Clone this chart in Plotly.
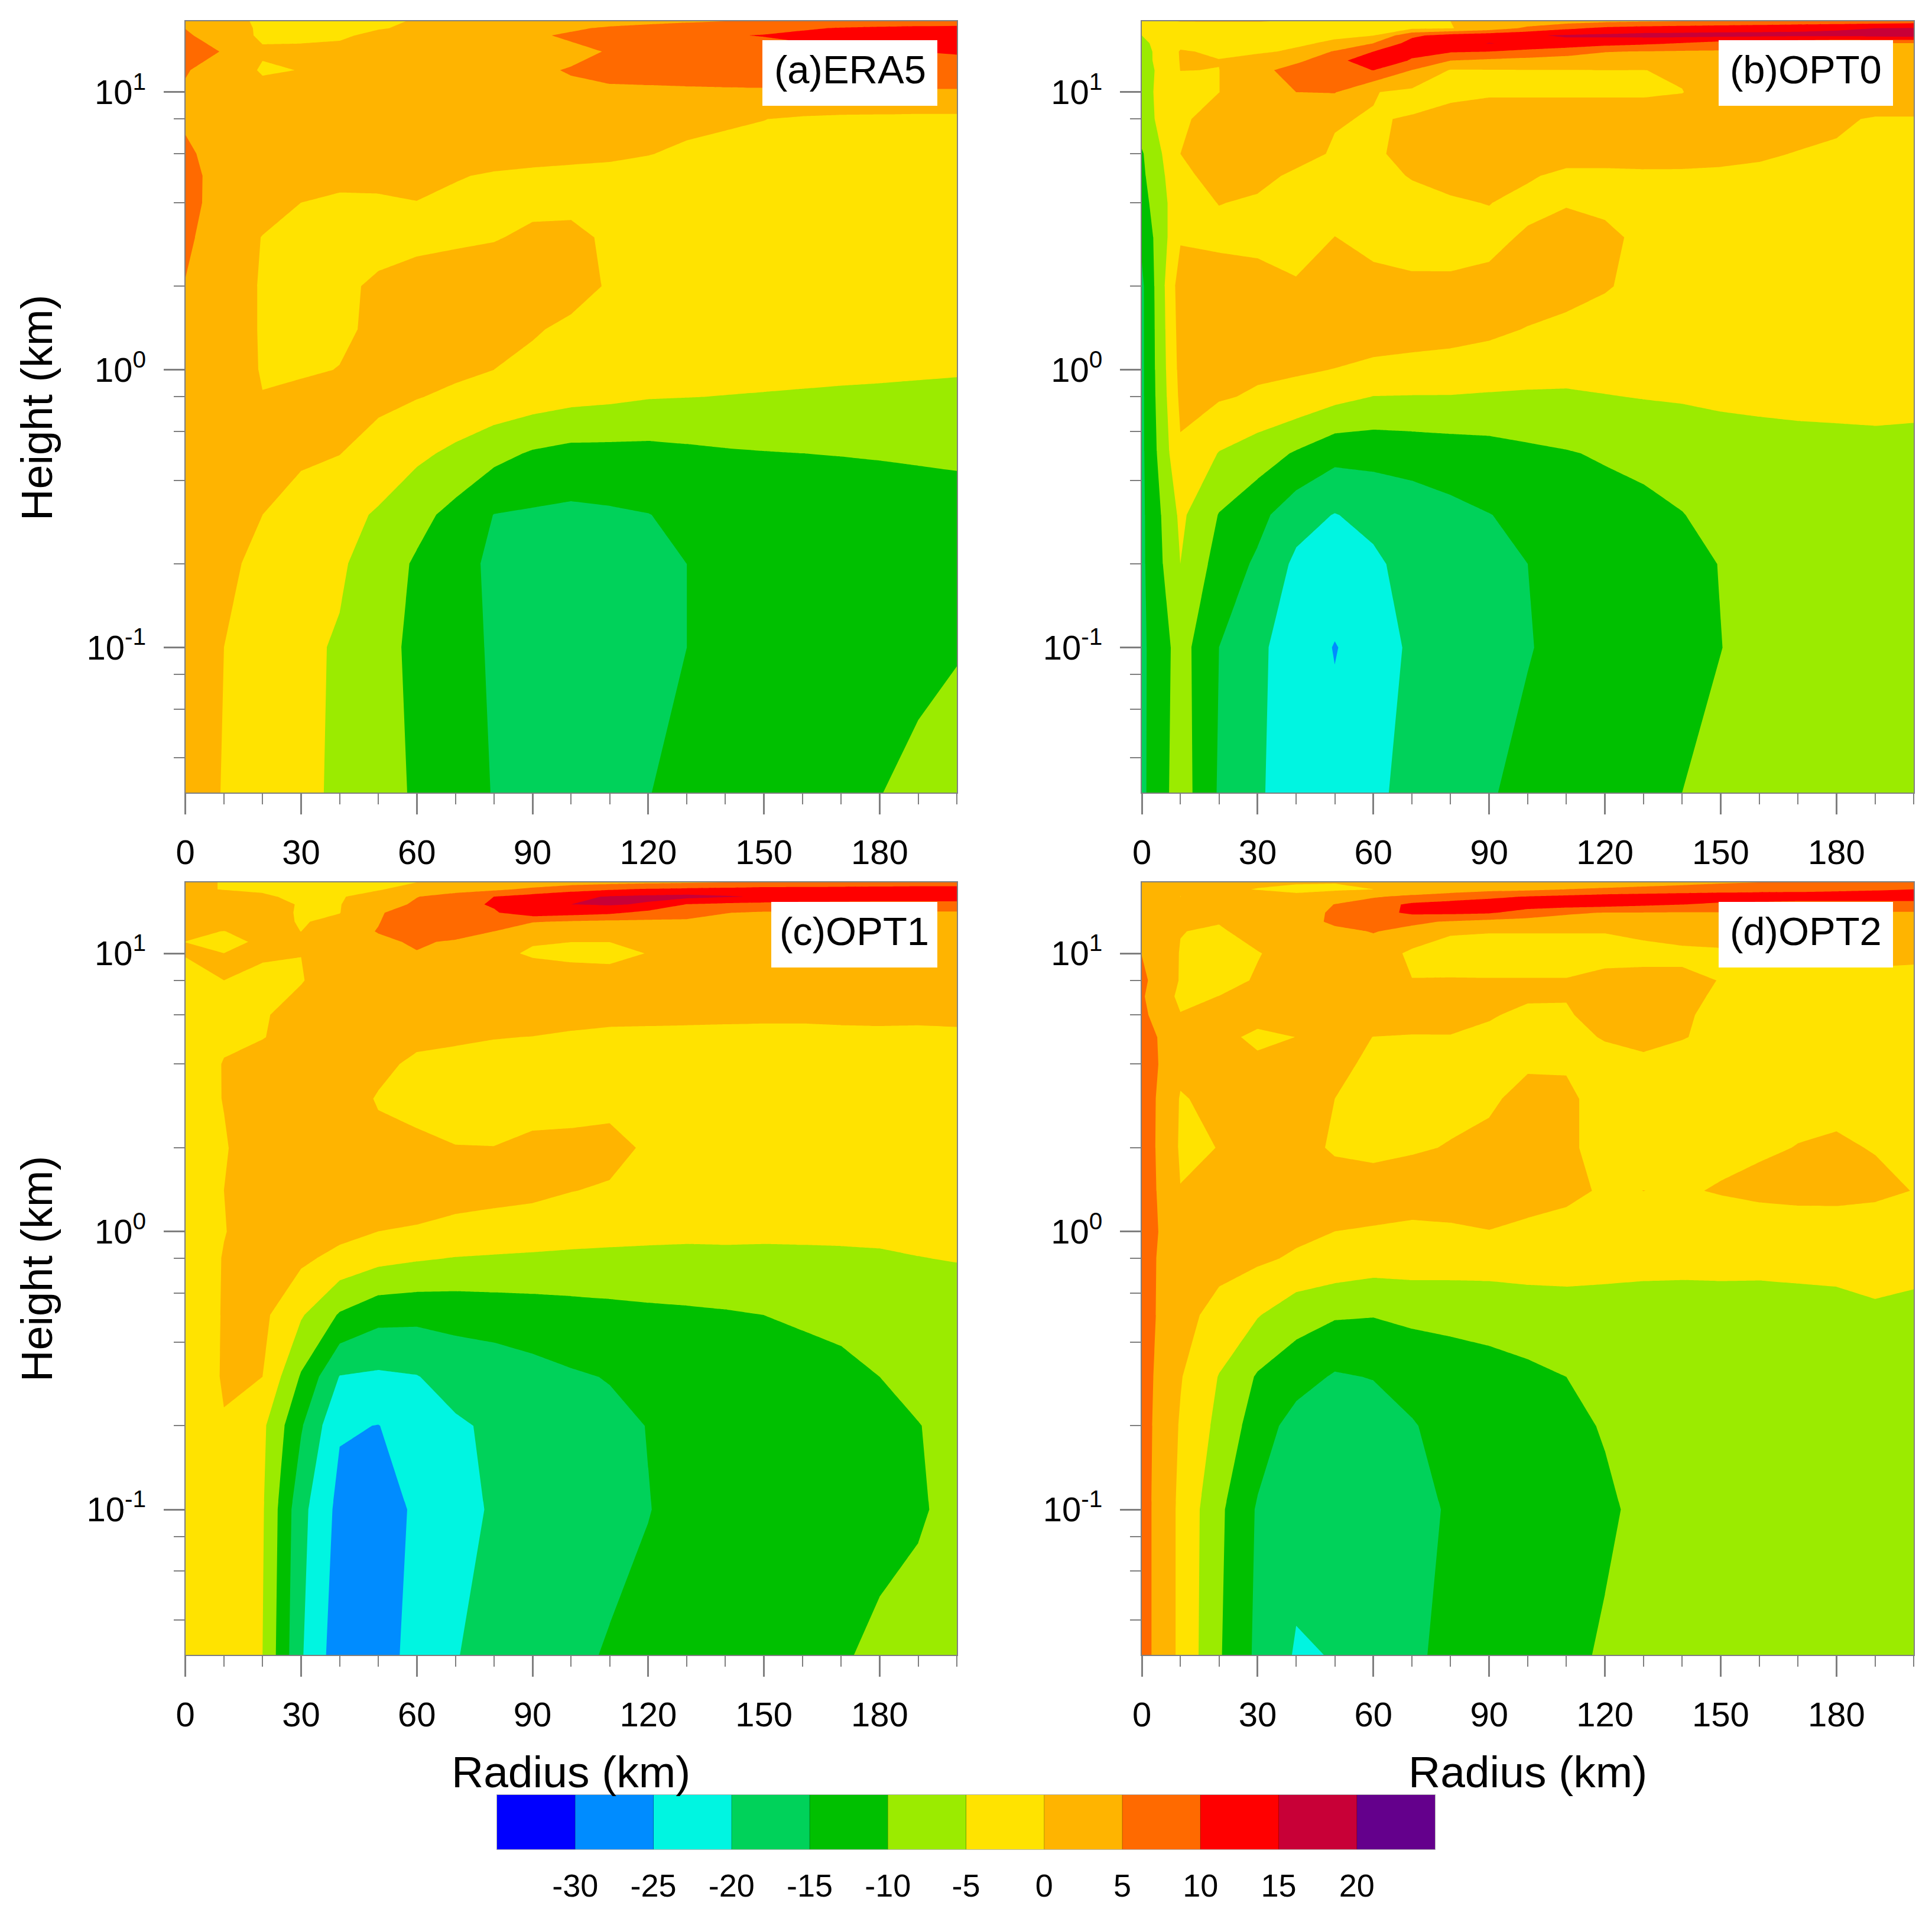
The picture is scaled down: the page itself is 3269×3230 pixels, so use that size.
import plotly.graph_objects as go

W, H = 3269, 3230
radius = list(range(0, 201, 10))
height_a = [0.03, 0.1, 0.2, 0.3, 0.5, 0.8, 1, 1.4, 2, 3, 4, 5, 6, 8, 10, 12, 14, 16, 17, 18]
height_b = [0.03, 0.1, 0.2, 0.3, 0.5, 0.8, 1, 1.4, 2, 3, 4, 5, 6, 8, 10, 12, 13, 14, 15, 16, 17, 18]
height_c = [0.03, 0.1, 0.2, 0.3, 0.5, 0.8, 1, 1.4, 2, 3, 4, 5, 6, 8, 10, 11, 12, 13, 14, 15, 16, 17, 18]
height_d = [0.03, 0.1, 0.2, 0.3, 0.5, 0.8, 1, 1.4, 2, 3, 4, 5, 6, 7, 8, 10, 12, 13, 14, 15, 16, 17, 18]

levels = [-30, -25, -20, -15, -10, -5, 0, 5, 10, 15, 20]
level_text = ["-30", "-25", "-20", "-15", "-10", "-5", "0", "5", "10", "15", "20"]
colors = ["#0000ff", "#008cff", "#00f5e1", "#00d25a", "#00c000", "#9beb00",
          "#ffe300", "#ffb400", "#ff6a00", "#ff0000", "#c80037", "#64008c"]
x_ticks = [0, 30, 60, 90, 120, 150, 180]
y_ticks = [0.1, 1, 10]
y_text = ["10<sup>-1</sup>", "10<sup>0</sup>", "10<sup>1</sup>"]
y_minor = [0.04, 0.06, 0.08, 0.2, 0.4, 0.6, 0.8, 2, 4, 6, 8]

ERA5 = [
 [2,-0.2,-2,-4,-5.7,-8.5,-10.5,-13,-15.2,-16.5,-17,-16.5,-15.1,-14,-13,-12.5,-11.8,-11,-10.1,-9,-8],
 [2,0,-2,-4,-5.5,-8.5,-11,-13.5,-15.5,-17,-18,-18,-16.8,-15,-14,-13,-12.5,-12,-11.5,-11,-10.3],
 [3,1,-1.2,-3,-4.3,-7.5,-10.6,-13.5,-15.8,-17,-17.5,-17,-16,-15,-14,-13,-12.5,-12,-11.8,-11.5,-11.3],
 [3,1.5,0,-2,-3.5,-5.5,-8.5,-11.5,-15.1,-15.6,-16,-15.6,-15.1,-14,-13,-12.5,-12,-11.8,-11.5,-11.2,-11],
 [3.5,2.5,1.5,0.8,0.1,-2,-4,-6,-8.5,-10.5,-11.5,-11.5,-11.5,-11,-10.5,-10.2,-10,-9.9,-9.8,-9.7,-9.6],
 [4,3,0.1,1,1.5,1.2,0.2,-0.8,-1.5,-2.5,-3.5,-4,-4.7,-4.9,-5.1,-5.3,-5.5,-5.7,-5.9,-6.1,-6.3],
 [4.5,2.5,-0.3,-0.5,0.1,1.2,1.5,0.8,0,-1,-2,-2.5,-3,-3.2,-3.4,-3.6,-3.8,-4,-4.1,-4.3,-4.5],
 [4.5,2.5,-0.4,-1.5,-0.7,0.8,2,2.2,1.5,0.4,-0.8,-1.5,-2,-2.2,-2.4,-2.5,-2.6,-2.7,-2.8,-2.9,-3],
 [4.8,2.5,-0.4,-2,-1,0.8,2,2.5,2.7,2.5,1.5,-0.4,-1.5,-2,-2.2,-2.4,-2.5,-2.6,-2.7,-2.8,-2.9],
 [6,2,-0.1,-1.5,-2,-1.8,-1.3,-0.8,-0.3,0.8,1.2,-0.8,-1.5,-2,-2.3,-2.5,-2.6,-2.7,-2.8,-2.9,-3],
 [6,3.7,1.5,0,-0.6,-0.4,-0.05,-0.6,-1,-1,-1.2,-1.5,-1.8,-2,-2.2,-2.4,-2.5,-2.6,-2.7,-2.8,-2.9],
 [6.2,3.5,2.5,1.5,1,0.8,0.7,0.2,-0.3,-0.6,-0.8,-1,-1.1,-1.2,-1.3,-1.4,-1.5,-1.6,-1.7,-1.8,-1.9],
 [5.6,3.5,3,2.5,2.2,2,2,1.8,1.2,1,0.8,0.6,0.1,-0.5,-0.8,-1,-1.1,-1.2,-1.3,-1.4,-1.5],
 [4.5,4,4,3.5,3.2,3,2.8,2.5,2.2,2,1.8,1.5,1.2,0.8,0.4,0.05,-0.5,-0.8,-0.9,-1,-1],
 [4.5,3.5,1.5,2.5,3,3.2,3.5,3.8,4,4.2,4.4,4.4,4.3,4.3,4.3,4.3,4.3,4.3,4.3,4.3,4.3],
 [5.3,3,-0.5,0.1,1.5,2,2.5,3,3.5,4.5,5.2,6,6.5,7,7.5,8,8.5,8.8,9,9,9],
 [6.5,4.8,0.5,1,1,1.5,2,2.5,3,3.5,4.2,5.2,6,6.5,7.5,8,8.5,9,9.5,10,10.2],
 [5.8,2,-0.6,-1,-0.5,0.8,1.5,2.5,3.2,4.5,5.5,6.8,7.8,8.8,9.7,10.2,11,11.5,12,12.5,13],
 [4.9,1.5,-0.5,-1.2,-1,-0.2,0.5,1.5,2.5,3.5,4.5,5.5,6.2,7,7.5,8.5,9.5,10.3,10.8,11.2,11.5],
 [2,1,-0.5,-1,-1,-0.5,0.2,1,2,2.5,3,3.5,4,4.5,5,5.5,6,6.5,7,7,7],
]

OPT0 = [
 [-16,-7.5,-15.5,-19.5,-22,-23.5,-21,-18.5,-17,-15.3,-14,-13,-12,-11,-10,-9,-8.5,-8,-7.8,-7.5,-7.3],
 [-16,-8,-15,-19,-22.5,-25.2,-23,-19,-17.5,-16.5,-15.2,-14,-13,-12,-11,-10.05,-9,-8.5,-8,-7.8,-7.5],
 [-16,-5,-12,-15.8,-21,-22.5,-21,-18,-17,-16,-15,-14,-13,-12,-11,-9.9,-9,-8.5,-8,-7.7,-7.4],
 [-16,-4,-10.2,-13.5,-18,-20.2,-18.5,-17.5,-16.2,-15.1,-14,-13,-12,-11,-10.1,-9,-8.5,-8,-7.5,-7.2,-7],
 [-16,-0.6,-5.2,-7.5,-10.5,-13.5,-13.5,-13,-12.5,-12,-11,-10.3,-9.5,-9,-8.5,-7.8,-7.2,-7,-6.8,-6.6,-6.4],
 [-16,1,0.5,-0.6,-1.5,-3.5,-5.1,-5.2,-5.2,-5.5,-5.7,-5.8,-5.2,-4.8,-4.5,-4,-3.8,-3.5,-3.4,-3.3,-3.8],
 [-16,1.5,1.2,0.8,0.5,-0.1,-1,-1.5,-2,-2.5,-3,-3.2,-3.3,-3.2,-3,-2.8,-2.7,-2.6,-2.5,-2.5,-2.5],
 [-16,2,2.5,2.5,2.5,2.5,2.2,2,1.8,1,-0.2,-1,-1.5,-1.7,-1.8,-1.9,-2,-2,-2,-2,-2],
 [-16,2.5,2.2,2,0.5,3,1,0.8,0.7,1,2.5,1.5,0.3,-1,-1.5,-1.8,-2,-2,-2,-2,-2],
 [-14,-0.5,-1,-1.5,-2,0.05,-1,-1.8,-1.6,-1,0.5,2.3,0.8,-0.8,-1.5,-1.8,-2,-2,-2,-2,-2],
 [-12,-1.5,0.1,-0.4,-1,-1.5,-1.5,-1,-0.3,0.1,-1,-0.4,-0.8,-1,-1,-1,-1,-1,-1,-1,-1],
 [-11,-1,1.5,0.8,-0.5,-1.5,-1,0.2,0.8,1,0.4,-0.8,-0.8,-0.5,-0.4,-0.4,-0.5,-0.6,-0.6,-0.8,-1],
 [-10.5,0,2.5,2,1,-0.3,-0.5,1,1.8,2,2,1.5,1.5,1.2,0.9,0.6,0.3,-0.1,-0.4,-0.8,-1],
 [-7,-1,2.5,3,2,0.2,-0.2,0.2,1.5,2,2,2,2,2,2,1.8,1.5,1,0.5,-0.3,-0.3],
 [-6.5,-1.5,-0.05,3.5,5,5.2,0.2,-1,-1,-0.5,-0.5,-0.5,-0.5,-0.5,-0.1,2,2.5,3,3,3,3],
 [-7.5,0.05,-0.05,3.5,7,8.5,10.05,4.9,-0.3,-0.2,-0.1,-0.1,0,-0.05,0.5,2,3,3.5,3.8,4,4],
 [-7,0.2,0.1,1.5,4,8,14,9.5,5,4,3.5,3,2.5,2.5,3,3.5,4,4,4,4.2,4.2],
 [-7,0.3,-0.5,-0.5,0.5,5.5,10,11.5,10.5,10,8.5,7,5.2,4.8,4.5,4.5,4.5,4.5,4.5,4.5,4.5],
 [-6,-1,-1,-1,-0.5,0.5,5,12,14,15.1,14.5,13.5,12,11,9.8,8,7,6,5,4.9,4.8],
 [-5,-1.5,-1,-1,-0.8,-0.5,-0.1,9,12,13.5,14.5,15.5,16,16.5,16.5,16.5,16.2,16,16,16.5,17],
 [-3,-1.5,-1,-1,-1,-1,-1,-0.8,-0.2,2,6,9,11,12,12.5,13,13.5,14,14.5,15,15.2],
 [-1,0.1,0.1,0.1,-0.2,-0.5,-0.5,-0.5,0,1,2,3,4,4.5,5,5.5,6,6.5,7,7.5,8],
]

OPT1 = [
 [-1,-2.5,-5,-19.5,-28,-27.5,-23,-20.2,-18.5,-17.5,-16,-14.6,-14,-13.5,-13,-12.5,-12,-10.5,-9,-8,-7.5],
 [-1,-2.5,-4.5,-18.5,-26.5,-28,-24,-21.5,-19.5,-18.5,-17.5,-16.5,-15.1,-14,-13.5,-13,-12.5,-12,-11.5,-10.6,-8.5],
 [-1,-0.3,-4,-14.5,-24.5,-25.1,-23,-20.7,-19.2,-18.5,-17.5,-16,-14.9,-14,-13.5,-13,-12.5,-12,-11,-10.1,-9],
 [-4,0.5,0,-10.5,-20.2,-20.8,-20.2,-18,-17.5,-16.5,-15.5,-14.8,-13.5,-13,-12.5,-12,-11.5,-11,-10,-9,-8],
 [-4,0.4,1.1,-4.5,-10.5,-13.5,-13.8,-13.5,-13,-12.5,-12,-11.5,-11,-10.7,-10.4,-10,-9.5,-9,-8.5,-8,-7.5],
 [-4,0.3,2,1,-1.5,-3.5,-4.5,-5.2,-5.5,-5.8,-6,-6.2,-6.4,-6.5,-6.4,-6.5,-6.3,-6,-5.7,-5.1,-4.8],
 [-2,-0.2,2.5,2.5,1.5,0,-0.5,-1.5,-2,-2.3,-3,-3.3,-3.5,-3.7,-3.6,-3.7,-3.7,-3.8,-3.8,-3.9,-4],
 [-2,0,3,3.5,3.5,3,2.5,2,1.5,1,0.1,-0.5,-1,-1.5,-1.7,-2,-2,-2,-2,-2,-2],
 [-2,-0.5,3.5,3.5,3.5,1,1,0.1,0.05,0.8,1,1.5,-0.7,-1,-1.5,-1.7,-1.8,-1.8,-1.8,-1.8,-1.8],
 [-3,0.2,3,3,2,-0.3,-1.5,-1.5,-1.5,-1.5,-1.5,-1.5,-1.5,-1.5,-1.5,-1.5,-1.5,-1.5,-1.5,-1.5,-1.5],
 [-4,0.3,2,2.5,2,1,-0.8,-1,-1,-1,-1,-1,-1,-1,-1,-1,-1,-1,-1,-1,-1],
 [-2,-1,-0.2,2,2.5,2.5,1,0.5,0.1,-0.05,-0.4,-0.6,-0.6,-0.7,-0.7,-0.8,-0.8,-0.7,-0.7,-0.7,-0.6],
 [-2,-1.5,-0.5,2,3,3,2.5,2,1.5,1.5,1,0.7,0.6,0.6,0.5,0.5,0.5,0.6,0.7,0.6,0.7],
 [-3,0,-1.5,-0.3,3,3.5,3,3,2.5,2.5,2,1.5,2,2,2,2,2,2.5,2.5,2.5,2.5],
 [0.5,0.02,0.8,0.05,3,3.5,4.8,3,1,-0.5,-1,-1,0.1,2,3,3,3,3,3,3,3],
 [-0.02,-1,0.6,0.8,3,4.2,5.5,4.5,3,0.3,0.02,0.02,1,2.5,3,3.2,3.2,3.2,3.5,3.5,3.5],
 [0.5,-0.05,1,-0.02,3,5.2,8,7,5,1.2,0.8,0.8,3,3.5,3.5,3.5,3.5,3.5,4,4,4],
 [1,1.5,1.5,-0.3,1,4.8,8,8,7.5,5.3,4.5,4,4,4,4,4,4,4,4.2,4.2,4.2],
 [1,2,2,-0.5,-0.1,4.5,7.5,8.5,9.5,13,12,11,8.5,7.5,5.1,4.5,4.5,4.5,4.5,4.5,4.5],
 [1,1.5,1,-0.2,-0.1,2,6,8.5,10.5,13,15,15.5,14.5,9.8,9,8.5,8,8,8,8,8],
 [1,1,0.5,-0.8,-0.2,1,4.8,7.5,10,12,14,15.3,16,16.5,15.5,14.5,14,13.5,13,13,13],
 [0.5,-0.1,-0.5,-0.8,-0.6,-0.2,1,2.5,4,6,8,9.5,10.5,11,11.5,12,12,12,12,12,12],
 [0.5,-0.1,-0.3,-0.5,-0.5,-0.3,0,0.8,1.5,2,3,3.5,4,4.5,5,5.5,6,6.5,7,7.5,7.5],
]

OPT2 = [
 [7,-1,-9.5,-16,-20.5,-19.8,-18,-16,-13.5,-12.8,-12.2,-11,-9.5,-9,-8.5,-8.2,-8,-7.8,-7.6,-7.5,-7.3],
 [7,-1,-9,-15.5,-18,-19,-18.5,-16.5,-14.5,-13.5,-13,-12,-10.7,-9,-8.5,-8.2,-8,-7.8,-7.6,-7.5,-7.3],
 [7,-0.4,-6.3,-12.5,-17,-18,-17.5,-15.3,-13.5,-12.5,-12,-11,-9.7,-8.8,-8.4,-8,-7.8,-7.6,-7.4,-7.3,-7.2],
 [7,0.3,-5.2,-10.5,-13,-15.5,-14.8,-13.5,-12.8,-12,-11,-10,-9,-8.5,-8.2,-8,-7.6,-7.4,-7.2,-7.1,-7],
 [7,1.5,-1.5,-4.7,-8,-9.5,-9.8,-9,-8.5,-8,-7.5,-7,-6.8,-6.5,-6.3,-6.2,-6.1,-6,-5.8,-5.2,-5.5],
 [6.5,2.5,1.5,0.8,-0.6,-1.5,-2.5,-2.5,-2.8,-3,-2.8,-3,-3.5,-4,-4.2,-4.2,-4.3,-4.2,-4.2,-4.5,-4.4],
 [6.5,3,2.5,2,1,0,-0.3,-0.8,-0.6,-0.1,-1,-1.5,-2,-2.2,-2.4,-2.5,-2.5,-2.6,-2.5,-2.6,-2.8],
 [8,0.1,3.5,3,2.5,2,1.8,2,2.2,2.5,2,1,-0.5,0.02,-0.4,0.3,1,1.5,1.5,1,-0.1],
 [8,-0.5,0.05,2.5,1.5,-0.5,-1,-0.4,0.2,0.8,1.5,0.5,-1,-1.5,-1.5,-1,-0.5,0.1,0.5,-0.2,-0.6],
 [8,-0.3,1,2.5,2,0,-1,-1,-1,-0.5,1,0.4,-0.8,-1,-1,-1,-1,-1,-1,-1,-1],
 [8,1,2.5,1.5,2,1,-0.8,-0.6,-0.6,-0.6,-0.4,-0.2,-0.5,-0.8,-0.8,-0.8,-0.8,-0.8,-0.8,-0.8,-0.8],
 [7,2,2,-1.5,0.05,1.5,-0.05,-0.2,-0.1,-0.5,-0.5,-0.4,0.1,1,0.1,-0.5,-0.5,-0.5,-0.5,-0.5,-0.5],
 [6,0.2,3,2.5,3,3,2.5,1.5,0.8,0.2,-0.5,-0.4,1.5,2,0.4,-0.8,-0.8,-0.8,-0.8,-0.8,-0.8],
 [5.5,-1,0.05,2,3,3,3,2,1.5,1,0.3,0.2,1,1.5,0.5,-0.3,-0.8,-0.9,-0.9,-0.9,-0.9],
 [6,-0.3,-1.5,0.4,2,2.5,3,0.1,0.1,0.1,0.1,0.1,0.8,1,0.8,-0.1,-0.8,-1,-1,-1,-1],
 [4.9,-0.2,-1.5,-0.2,1.5,2.5,3,-1,-0.8,-1,-1,-1,-1,-1,-0.8,-0.5,0.1,0.5,0.8,1,0.7],
 [3.5,0.1,-0.5,1.5,2.5,4,5.2,3.8,0.2,0.1,0.1,0.1,0.1,0.7,1.5,1.5,2,2.5,3,3,3],
 [3,2,0.2,2,3,5.8,8.5,5.8,4.6,3.5,3,2.5,2.5,3,3,3.5,3.5,3.8,4,4,4],
 [3,2,2,2.5,3.5,5.5,8,11,11,10.5,8,5.8,4.8,4.8,4.7,4.7,4.6,4.6,4.6,4.6,4.6],
 [2,1,1.5,1.5,2,5.1,7.5,11,12,12.5,12.5,12.5,12,11,10.1,9,8.5,8,8,8,8],
 [1.5,-0.02,1,1,0.5,2,4.5,6,7.5,9,10.2,11,12,12.5,13,13,13,12.5,12.5,12.5,12.5],
 [1,0.5,0.5,-0.1,-0.5,-0.5,0,1.5,2.5,3.5,4,5,5.5,6,6.5,7.5,8,8.5,9,9.5,10],
 [1,0.5,0.5,0.5,0.2,0.1,0.1,0.5,1,1.5,2,2.5,3,3.5,4,4.5,5,5.5,6,6.5,7],
]

panels = [
    ("(a)ERA5", ERA5, height_a, (313.7, 1619, 36, 1341), (1290, 1586, 68, 179)),
    ("(b)OPT0", OPT0, height_b, (1932, 3238, 36, 1341), (2908, 3203, 68, 179)),
    ("(c)OPT1", OPT1, height_c, (313.7, 1619, 1493, 2800), (1305, 1586, 1526, 1637)),
    ("(d)OPT2", OPT2, height_d, (1932, 3238, 1493, 2800), (2908, 3203, 1526, 1637)),
]
for _, z, hts, _, _ in panels:
    assert len(z) == len(hts) and all(len(r) == len(radius) for r in z)

FONT = "Liberation Sans, Arial, sans-serif"
GREY = "#7f7f7f"
scale = [[i / (len(colors) - 1), c] for i, c in enumerate(colors)]

fig = go.Figure()
annotations, shapes = [], []
layout = {}

def px(v):
    return v / W

def py(v):
    return 1 - v / H

for k, (label, z, hts, (x0, x1, y0, y1), (bx0, bx1, by0, by1)) in enumerate(panels, start=1):
    xa, ya = f"x{k}", f"y{k}"
    fig.add_trace(go.Contour(
        x=radius, y=hts, z=z, xaxis=xa, yaxis=ya,
        colorscale=scale, showscale=False, autocontour=False,
        contours=dict(start=levels[0], end=levels[-1], size=5, coloring="fill"),
        line=dict(width=0, smoothing=0), hoverinfo="skip",
    ))
    layout[f"xaxis{k}"] = dict(
        domain=[px(x0), px(x1)], anchor=ya, range=[0, 200], tickmode="array",
        tickvals=x_ticks, ticks="outside", ticklen=35, tickwidth=3, tickcolor=GREY,
        ticklabelstandoff=14, tickfont=dict(family=FONT, size=58, color="black"),
        showgrid=False, zeroline=False, showline=True, linecolor=GREY, linewidth=2, mirror=True,
        automargin=False,
        minor=dict(dtick=10, tick0=0, ticks="outside", ticklen=18, tickwidth=2,
                   tickcolor=GREY, showgrid=False),
    )
    layout[f"yaxis{k}"] = dict(
        domain=[py(y1), py(y0)], anchor=xa, type="log",
        range=[-1.5229, 1.2553], tickmode="array", tickvals=y_ticks, ticktext=y_text,
        ticks="outside", ticklen=35, tickwidth=3, tickcolor=GREY,
        ticklabelstandoff=18, tickfont=dict(family=FONT, size=58, color="black"),
        showgrid=False, zeroline=False, showline=True, linecolor=GREY, linewidth=2, mirror=True,
        automargin=False,
        minor=dict(tickmode="array", tickvals=y_minor, ticks="outside", ticklen=18,
                   tickwidth=2, tickcolor=GREY, showgrid=False),
    )
    shapes.append(dict(type="rect", xref="paper", yref="paper", x0=px(bx0), x1=px(bx1),
                       y0=py(by1), y1=py(by0), fillcolor="white", line_width=0, layer="above"))
    annotations.append(dict(text=label, xref="paper", yref="paper", x=px((bx0 + bx1) / 2),
                            y=py((by0 + by1) / 2 - 6), showarrow=False, xanchor="center", yanchor="middle",
                            font=dict(family=FONT, size=67, color="black")))

for (cx, cy) in [(62, 690), (62, 2147)]:
    annotations.append(dict(text="Height (km)", xref="paper", yref="paper", x=px(cx), y=py(cy),
                            textangle=-90, showarrow=False, xanchor="center", yanchor="middle",
                            font=dict(family=FONT, size=74, color="black")))
for (cx, cy) in [(966, 2998), (2585, 2998)]:
    annotations.append(dict(text="Radius (km)", xref="paper", yref="paper", x=px(cx), y=py(cy),
                            showarrow=False, xanchor="center", yanchor="middle",
                            font=dict(family=FONT, size=75, color="black")))

# colour key
band_edges = [-35] + levels + [25]
band_mid = [(a + b) / 2 for a, b in zip(band_edges[:-1], band_edges[1:])]
fig.add_trace(go.Heatmap(
    x=band_mid, y=[0], z=[list(range(len(colors)))], xaxis="x5", yaxis="y5",
    colorscale=scale, zmin=0, zmax=len(colors) - 1, showscale=False, hoverinfo="skip",
))
sep_x, sep_y = [], []
for lv in levels:
    sep_x += [lv, lv, None]
    sep_y += [-0.5, 0.5, None]
fig.add_trace(go.Scatter(x=sep_x, y=sep_y, xaxis="x5", yaxis="y5", mode="lines",
                         line=dict(color="rgba(0,0,0,0.3)", width=1), hoverinfo="skip"))
layout["xaxis5"] = dict(domain=[px(841), px(2428)], anchor="y5", range=[-35, 25], tickmode="array",
                        tickvals=levels, ticktext=level_text, ticks="", ticklabelstandoff=14,
                        tickfont=dict(family=FONT, size=54, color="black"), automargin=False,
                        showgrid=False, zeroline=False, showline=True, linewidth=1, mirror=True,
                        linecolor="rgba(0,0,0,0.3)")
layout["yaxis5"] = dict(domain=[py(3129), py(3037)], anchor="x5", range=[-0.5, 0.5],
                        showticklabels=False, ticks="", showgrid=False, zeroline=False,
                        showline=True, linewidth=1, mirror=True, linecolor="rgba(0,0,0,0.3)",
                        automargin=False)

fig.update_layout(width=W, height=H, margin=dict(l=0, r=0, t=0, b=0), autosize=False,
                  paper_bgcolor="white", plot_bgcolor="white", showlegend=False,
                  annotations=annotations, shapes=shapes, **layout)
fig.write_html("out.html", config={"displayModeBar": False},
               post_script="document.body.style.margin='0';document.body.style.overflow='hidden';")
